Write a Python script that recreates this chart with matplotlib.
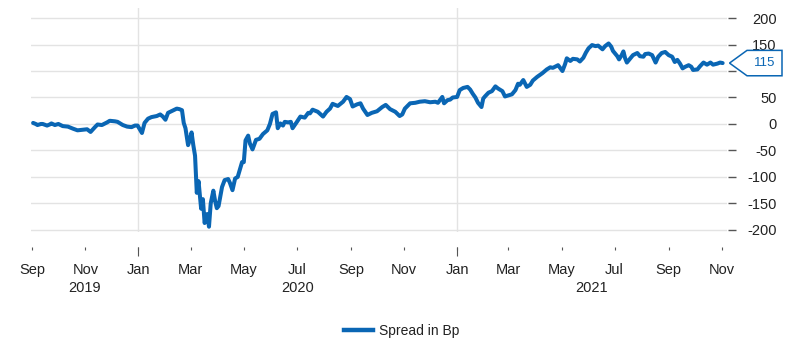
import matplotlib
matplotlib.use("Agg")
import matplotlib.pyplot as plt
import matplotlib.dates as mdates
import matplotlib.transforms as mtransforms
from matplotlib.patches import Polygon
from matplotlib.lines import Line2D
import pandas as pd

plt.rcParams['font.family'] = ['Liberation Sans', 'DejaVu Sans']
plt.rcParams['axes.unicode_minus'] = False

# ---- data -------------------------------------------------------------
dates = [
    "2019-09-02", "2019-09-05", "2019-09-07", "2019-09-11", "2019-09-13", "2019-09-18",
    "2019-09-21", "2019-09-23", "2019-09-27", "2019-10-01", "2019-10-06", "2019-10-12",
    "2019-10-18", "2019-10-23", "2019-10-29", "2019-11-03", "2019-11-07", "2019-11-12",
    "2019-11-15", "2019-11-20", "2019-11-26", "2019-11-29", "2019-12-05", "2019-12-08",
    "2019-12-14", "2019-12-19", "2019-12-24", "2019-12-28", "2019-12-31",
    "2020-01-05", "2020-01-08", "2020-01-12", "2020-01-16", "2020-01-22", "2020-01-26",
    "2020-01-29", "2020-02-01", "2020-02-04", "2020-02-09", "2020-02-14", "2020-02-17",
    "2020-02-20", "2020-02-22", "2020-02-24", "2020-02-27", "2020-02-29", "2020-03-02",
    "2020-03-04", "2020-03-06", "2020-03-08", "2020-03-10", "2020-03-13", "2020-03-15",
    "2020-03-17", "2020-03-20", "2020-03-22", "2020-03-24", "2020-03-27", "2020-03-29",
    "2020-03-31", "2020-04-02", "2020-04-06", "2020-04-09", "2020-04-13", "2020-04-15",
    "2020-04-18", "2020-04-21", "2020-04-24", "2020-04-29", "2020-05-01", "2020-05-03",
    "2020-05-06", "2020-05-08", "2020-05-11", "2020-05-15", "2020-05-19", "2020-05-23",
    "2020-05-28", "2020-05-31", "2020-06-03", "2020-06-07", "2020-06-09", "2020-06-12",
    "2020-06-15", "2020-06-17", "2020-06-21", "2020-06-24", "2020-06-26", "2020-07-01",
    "2020-07-05", "2020-07-10", "2020-07-14", "2020-07-16", "2020-07-19", "2020-07-25",
    "2020-07-31", "2020-08-04", "2020-08-08", "2020-08-11", "2020-08-17", "2020-08-23",
    "2020-08-27", "2020-08-31", "2020-09-03", "2020-09-08", "2020-09-12", "2020-09-15",
    "2020-09-20", "2020-09-25", "2020-10-01", "2020-10-07", "2020-10-11", "2020-10-16",
    "2020-10-22", "2020-10-27", "2020-10-30", "2020-11-02", "2020-11-08", "2020-11-14",
    "2020-11-19", "2020-11-25", "2020-12-01", "2020-12-07", "2020-12-10", "2020-12-15",
    "2020-12-17", "2020-12-21", "2020-12-24", "2020-12-27",
    "2021-01-01", "2021-01-04", "2021-01-08", "2021-01-13", "2021-01-16", "2021-01-19",
    "2021-01-22", "2021-01-25", "2021-01-29", "2021-01-31", "2021-02-02", "2021-02-06",
    "2021-02-10", "2021-02-14", "2021-02-17", "2021-02-22", "2021-02-25", "2021-03-01",
    "2021-03-05", "2021-03-09", "2021-03-12", "2021-03-14", "2021-03-18", "2021-03-22",
    "2021-03-26", "2021-03-29", "2021-04-03", "2021-04-09", "2021-04-14", "2021-04-18",
    "2021-04-21", "2021-04-27", "2021-05-02", "2021-05-05", "2021-05-07", "2021-05-11",
    "2021-05-14", "2021-05-19", "2021-05-22", "2021-05-26", "2021-05-29", "2021-06-01",
    "2021-06-05", "2021-06-09", "2021-06-12", "2021-06-17", "2021-06-20", "2021-06-24",
    "2021-06-27", "2021-06-29", "2021-07-04", "2021-07-06", "2021-07-09", "2021-07-11",
    "2021-07-13", "2021-07-15", "2021-07-19", "2021-07-22", "2021-07-27", "2021-07-30",
    "2021-08-03", "2021-08-05", "2021-08-09", "2021-08-13", "2021-08-17", "2021-08-20",
    "2021-08-24", "2021-08-28", "2021-09-01", "2021-09-05", "2021-09-08", "2021-09-11",
    "2021-09-14", "2021-09-17", "2021-09-20", "2021-09-24", "2021-09-27", "2021-09-29",
    "2021-10-04", "2021-10-07", "2021-10-11", "2021-10-15", "2021-10-19", "2021-10-22",
    "2021-10-27", "2021-10-30", "2021-11-02",
]

spread = [
    2, 0, -2, 0, 0, -3,
    -1, 1, -2, 0, -4, -5,
    -9, -12, -11, -10, -15, -6,
    -1, -2, 3, 6, 5, 4,
    -2, -5, -6, -3, -3,
    -17, 2, 10, 13, 15, 18,
    14, 8, 21, 25, 29, 28,
    26, 2, -8, -40, -30, -16,
    -40, -60, -130, -108, -160, -142,
    -187, -170, -194, -150, -126, -145,
    -159, -155, -119, -106, -104, -111,
    -125, -103, -100, -72, -72, -31,
    -22, -37, -48, -30, -28, -19,
    -12, 0, 19, 22, -8, 1,
    -3, 4, 3, 4, -8, 4,
    14, 12, 21, 20, 27, 23,
    14, 23, 29, 38, 34, 42,
    51, 47, 33, 37, 39, 29,
    17, 21, 24, 32, 36, 28,
    23, 15, 18, 29, 39, 40,
    42, 43, 41, 42, 40, 51,
    39, 45, 46, 50,
    51, 64, 68, 70, 65, 57,
    50, 40, 32, 48, 52, 59,
    62, 71, 67, 62, 52, 54,
    56, 64, 76, 74, 83, 70,
    74, 82, 89, 96, 103, 107,
    106, 111, 100, 113, 124, 119,
    123, 122, 118, 125, 135, 143,
    149, 147, 148, 141, 147, 152,
    146, 138, 128, 122, 130, 137,
    124, 116, 124, 130, 134, 128,
    127, 132, 133, 130, 116, 127,
    134, 136, 130, 127, 117, 121,
    114, 105, 108, 111, 108, 102,
    103, 109, 116, 112, 116, 112,
    114, 116, 115,
]

series_name = "Spread in Bp"
y_ticks = [-200, -150, -100, -50, 0, 50, 100, 150, 200]
x_start, x_end = "2019-08-30", "2021-11-07"

# ---- figure / axes geometry (pixels) ---------------------------------
W, H = 794, 338
fig = plt.figure(figsize=(W / 100, H / 100), dpi=100)
left, right, top, bottom = 30.5, 727, 8, 232
ax = fig.add_axes([left / W, 1 - bottom / H, (right - left) / W, (bottom - top) / H])

line_color = "#0a66b4"
grid_color = "#e3e3e3"
tick_color = "#555555"
text_color = "#222222"

x = pd.to_datetime(dates)
ax.plot(x, spread, color=line_color, lw=2.9, solid_joinstyle="round",
        solid_capstyle="round", zorder=3, clip_on=False)

ax.set_xlim(pd.Timestamp(x_start), pd.Timestamp(x_end))
ax.set_ylim(-204, 219)

for s in ax.spines.values():
    s.set_visible(False)

# y axis on the right
ax.yaxis.tick_right()
ax.set_yticks(y_ticks)
ax.spines["right"].set_position(("outward", 1))
ax.tick_params(axis="y", which="major", length=5.8, width=1.0, color=tick_color,
               pad=28.8, labelsize=10.5, labelcolor=text_color)
plt.setp(ax.get_yticklabels(), ha="right")
ax.yaxis.grid(True, color=grid_color, lw=1.0)

# x axis: month ticks, longer ticks and grid lines at year starts
ax.xaxis.set_major_locator(mdates.MonthLocator(bymonth=[1, 3, 5, 7, 9, 11]))
ax.xaxis.set_major_formatter(mdates.DateFormatter("%b"))
ax.xaxis.set_minor_locator(mdates.MonthLocator(bymonth=[1]))
ax.xaxis.remove_overlapping_locs = False
ax.spines["bottom"].set_position(("outward", 11))
ax.tick_params(axis="x", which="major", length=2.4, width=0.8, color=tick_color,
               pad=9, labelsize=10.5, labelcolor=text_color)
ax.tick_params(axis="x", which="minor", length=6.5, width=0.8, color=tick_color)
ax.xaxis.grid(True, which="minor", color=grid_color, lw=1.0)
ax.xaxis.grid(False, which="major")
ax.set_axisbelow(True)

# year labels centred on each year's visible span
lo, hi = pd.Timestamp(x_start), pd.Timestamp(x_end)
year_tr = mtransforms.blended_transform_factory(ax.transData, fig.transFigure)
for yr in range(lo.year, hi.year + 1):
    a = max(lo, pd.Timestamp(f"{yr}-01-01"))
    b = min(hi, pd.Timestamp(f"{yr + 1}-01-01"))
    mid = a + (b - a) / 2
    ax.text(mdates.date2num(mid), (H - 292) / H, str(yr), transform=year_tr,
            ha="center", va="baseline", fontsize=10.5, color=text_color)

# last-value callout on the right axis
last = spread[-1]
fig.canvas.draw()
yc = ax.transData.transform((mdates.date2num(x[-1]), last))[1]
tip, bx0, bx1, hh = 729.5, 747, 782, 12.7
callout = Polygon([(tip, yc), (bx0, yc + hh), (bx1, yc + hh), (bx1, yc - hh), (bx0, yc - hh)],
                  closed=True, facecolor="white", edgecolor=line_color, lw=1.1,
                  transform=mtransforms.IdentityTransform(), zorder=5)
fig.add_artist(callout)
fig.text((bx0 + bx1) / 2, yc, f"{last:.0f}", transform=mtransforms.IdentityTransform(),
         ha="center", va="center", fontsize=9.5, color=line_color, zorder=6)

# axis labels that would sit under the callout are left out
for tick_val, lbl in zip(ax.get_yticks(), ax.get_yticklabels()):
    ty = ax.transData.transform((0, tick_val))[1]
    if abs(ty - yc) < hh + 2:
        lbl.set_visible(False)

# legend
handle = Line2D([], [], color=line_color, lw=3.2)
fig.legend([handle], [series_name], loc="center", bbox_to_anchor=(401.5 / W, (H - 331) / H),
           frameon=False, fontsize=10, handlelength=2.1, handletextpad=0.4,
           labelcolor=text_color)

fig.savefig("out.png", dpi=100)
